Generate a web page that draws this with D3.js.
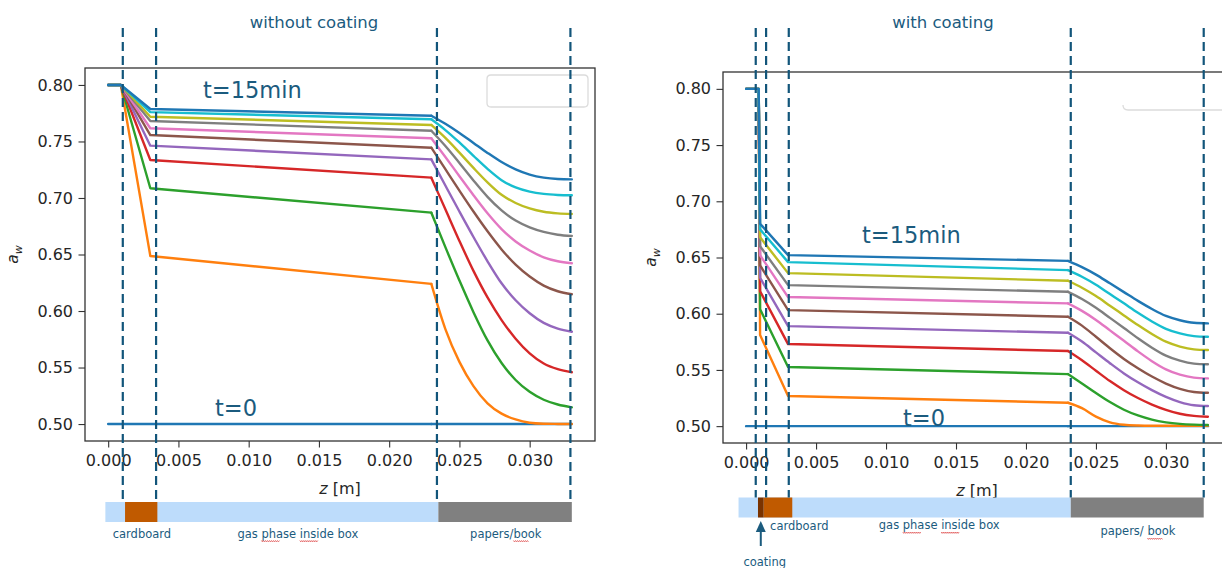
<!DOCTYPE html>
<html>
<head>
<meta charset="utf-8">
<script src="https://cdn.jsdelivr.net/npm/d3@7"></script>
<style>
  body { margin: 0; background: #fff; }
  svg text { font-family: "DejaVu Sans", sans-serif; }
</style>
</head>
<body>
<svg id="chart" width="1222" height="568"></svg>
<script>
// ---- data ----
const timesMin = [0, 1.5, 3, 4.5, 6, 7.5, 9, 10.5, 12, 13.5, 15];
const xTicks = [0, 0.005, 0.010, 0.015, 0.020, 0.025, 0.030];
const yTicks = [0.50, 0.55, 0.60, 0.65, 0.70, 0.75, 0.80];

// without coating: z [m] and a_w per time step
const leftZ = [0, 0.0009, 0.003, 0.023, 0.024, 0.025, 0.026, 0.027, 0.028, 0.029, 0.030, 0.031, 0.032, 0.033];
const leftAw = [
  [0.50, 0.50, 0.50, 0.50, 0.50, 0.50, 0.50, 0.50, 0.50, 0.50, 0.50, 0.50, 0.50, 0.50],
  [0.80, 0.80, 0.6487, 0.624, 0.584, 0.555, 0.5335, 0.5183, 0.5092, 0.5041, 0.5012, 0.5003, 0.5001, 0.5000],
  [0.80, 0.80, 0.7086, 0.687, 0.6565, 0.627, 0.599, 0.574, 0.554, 0.539, 0.5285, 0.5215, 0.5173, 0.5148],
  [0.80, 0.80, 0.7336, 0.718, 0.690, 0.662, 0.6355, 0.612, 0.592, 0.5755, 0.5625, 0.5535, 0.5485, 0.5458],
  [0.80, 0.80, 0.7463, 0.7342, 0.711, 0.688, 0.6655, 0.644, 0.6245, 0.6095, 0.598, 0.5895, 0.5845, 0.5817],
  [0.80, 0.80, 0.7557, 0.7445, 0.7255, 0.7065, 0.688, 0.6705, 0.6545, 0.641, 0.6305, 0.6225, 0.6175, 0.6148],
  [0.80, 0.80, 0.7617, 0.7528, 0.7363, 0.7193, 0.7025, 0.6865, 0.6725, 0.6615, 0.6535, 0.6475, 0.644, 0.6422],
  [0.80, 0.80, 0.7681, 0.7595, 0.746, 0.731, 0.7155, 0.701, 0.689, 0.680, 0.674, 0.670, 0.6675, 0.6664],
  [0.80, 0.80, 0.7719, 0.7646, 0.7531, 0.7401, 0.7266, 0.7138, 0.7028, 0.6956, 0.6908, 0.6878, 0.6864, 0.6858],
  [0.80, 0.80, 0.776, 0.7696, 0.7601, 0.7491, 0.7373, 0.7258, 0.7158, 0.7093, 0.7056, 0.7036, 0.7027, 0.7024],
  [0.80, 0.80, 0.7787, 0.7728, 0.7656, 0.7575, 0.7487, 0.7399, 0.7318, 0.7253, 0.7207, 0.718, 0.7168, 0.7165]
];

// with coating
const rightZ = [0, 0.0009, 0.001, 0.003, 0.023, 0.024, 0.025, 0.026, 0.027, 0.028, 0.029, 0.030, 0.031, 0.032, 0.033];
const rightAw = [
  [0.50, 0.50, 0.50, 0.50, 0.50, 0.50, 0.50, 0.50, 0.50, 0.50, 0.50, 0.50, 0.50, 0.50, 0.50],
  [0.80, 0.80, 0.581, 0.5268, 0.5208, 0.5160, 0.5085, 0.5034, 0.5012, 0.5005, 0.5003, 0.5003, 0.5003, 0.5003, 0.5003],
  [0.80, 0.80, 0.604, 0.5526, 0.5463, 0.5380, 0.5295, 0.5214, 0.5146, 0.5095, 0.5058, 0.5034, 0.5020, 0.5013, 0.501],
  [0.80, 0.80, 0.620, 0.573, 0.5668, 0.5586, 0.5493, 0.5401, 0.5320, 0.5250, 0.5192, 0.5145, 0.5110, 0.5091, 0.5084],
  [0.80, 0.80, 0.632, 0.589, 0.583, 0.5752, 0.5656, 0.5560, 0.5469, 0.5390, 0.5320, 0.5260, 0.5214, 0.5186, 0.5179],
  [0.80, 0.80, 0.643, 0.6032, 0.5973, 0.5894, 0.5795, 0.5693, 0.5598, 0.5515, 0.5441, 0.5379, 0.5332, 0.5304, 0.5297],
  [0.80, 0.80, 0.652, 0.6148, 0.6092, 0.6025, 0.5945, 0.5852, 0.5759, 0.5665, 0.5578, 0.5505, 0.5458, 0.5432, 0.5425],
  [0.80, 0.80, 0.660, 0.6254, 0.6195, 0.6131, 0.6053, 0.5963, 0.5873, 0.5782, 0.5698, 0.5627, 0.5582, 0.5556, 0.555],
  [0.80, 0.80, 0.668, 0.6361, 0.6293, 0.6231, 0.6157, 0.6071, 0.5985, 0.5899, 0.5819, 0.5751, 0.5708, 0.5683, 0.5677],
  [0.80, 0.80, 0.675, 0.6459, 0.6388, 0.6329, 0.6258, 0.6175, 0.6092, 0.6008, 0.5931, 0.5866, 0.5825, 0.5801, 0.5795],
  [0.80, 0.80, 0.680, 0.6521, 0.647, 0.6414, 0.6348, 0.627, 0.6192, 0.6114, 0.6042, 0.598, 0.5942, 0.5919, 0.5914]
];

// layer boundaries (dashed lines) and layers of the strip below, in z [m]
const leftBounds = [0.00104, 0.00341, 0.0234, 0.0329];
const rightBounds = [0.00069, 0.00143, 0.00305, 0.0232, 0.0327];
const leftLayers = [["gas", -0.0002, 0.0235], ["cardboard", 0.0012, 0.0035], ["book", 0.0235, 0.033]];
const rightLayers = [["gas", -0.00054, 0.0232], ["coating", 0.00085, 0.00126], ["cardboard", 0.00126, 0.0033], ["book", 0.0232, 0.0327]];
const leftLabels = [["cardboard", 0.0024, []], ["gas phase inside box", 0.0135, ["phase", "inside"]], ["papers/book", 0.0283, ["book"]]];
const rightLabels = [["cardboard", 0.0038, []], ["gas phase inside box", 0.0138, ["phase", "inside"]], ["papers/ book", 0.028, ["book"]]];

// ---- styles ----
const colors = ["#1f77b4", "#ff7f0e", "#2ca02c", "#d62728", "#9467bd", "#8c564b",
                "#e377c2", "#7f7f7f", "#bcbd22", "#17becf", "#1f77b4"];
const layerColor = { gas: "#bddcfb", cardboard: "#c05a00", coating: "#7a3300", book: "#808080" };
const ink = "#1b5b7e";
const dashInk = "#12557a";

const svg = d3.select("#chart");

function drawPanel(p) {
  const x = d3.scaleLinear().domain([-0.00165, 0.03465]).range([p.left, p.right]);
  const y = d3.scaleLinear().domain([0.485, 0.815]).range([p.bottom, p.top]);
  const g = svg.append("g");

  // series: straight through the layers, smooth through the book
  const kink = p.z.indexOf(0.023);
  const straight = d3.line().x(d => x(d[0])).y(d => y(d[1]));
  const smooth = d3.line().curve(d3.curveMonotoneX).x(d => x(d[0])).y(d => y(d[1]));
  p.aw.forEach((vals, i) => {
    const pts = p.z.map((z, j) => [z, vals[j]]);
    [straight(pts.slice(0, kink + 1)), smooth(pts.slice(kink))].forEach(d => {
      g.append("path").attr("d", d).attr("fill", "none")
        .attr("stroke", colors[i]).attr("stroke-width", 2.4)
        .attr("stroke-linecap", "round").attr("stroke-linejoin", "round");
    });
  });

  // axes
  const xAxis = d3.axisBottom(x).tickValues(xTicks).tickSize(6.5).tickPadding(7)
    .tickFormat(d3.format(".3f"));
  const yAxis = d3.axisLeft(y).tickValues(yTicks).tickSize(6.5).tickPadding(5.5)
    .tickFormat(d3.format(".2f"));
  [g.append("g").attr("transform", `translate(0,${p.bottom})`).call(xAxis),
   g.append("g").attr("transform", `translate(${p.left},0)`).call(yAxis)].forEach(a => {
    a.select(".domain").remove();
    a.selectAll("line").attr("stroke", "#333").attr("stroke-width", 1.1);
    a.selectAll("text").attr("fill", "#262626").style("font-size", "16px")
      .style("font-family", "DejaVu Sans, sans-serif");
  });

  g.append("rect").attr("x", p.left).attr("y", p.top)
    .attr("width", p.right - p.left).attr("height", p.bottom - p.top)
    .attr("fill", "none").attr("stroke", "#333").attr("stroke-width", 1.3);

  // axis labels
  const xl = g.append("text").attr("x", (p.left + p.right) / 2).attr("y", p.bottom + 53)
    .attr("text-anchor", "middle").attr("fill", "#262626").style("font-size", "16px");
  xl.append("tspan").attr("font-style", "italic").text("z");
  xl.append("tspan").text(" [m]");
  const yl = g.append("text").attr("text-anchor", "middle").attr("fill", "#262626")
    .attr("transform", `translate(${p.left - 67},${(p.top + p.bottom) / 2}) rotate(-90)`)
    .style("font-size", "15.5px");
  yl.append("tspan").attr("font-style", "italic").text("a");
  yl.append("tspan").attr("font-style", "italic").attr("dy", 3.5).style("font-size", "11px").text("w");

  // empty legend frame
  g.append("path").attr("d", p.legend).attr("fill", "#fff")
    .attr("stroke", "#dcdcdc").attr("stroke-width", 1.3);

  // title and time labels
  g.append("text").attr("x", p.titleX).attr("y", 28).attr("text-anchor", "middle")
    .attr("fill", ink).style("font-size", "16.5px").text(p.title);
  p.tLabels.forEach(([txt, tx, ty]) => {
    g.append("text").attr("x", tx).attr("y", ty).attr("fill", ink)
      .style("font-size", "22.5px").text(txt);
  });

  // layer strip
  p.layers.forEach(([name, z0, z1]) => {
    g.append("rect").attr("x", x(z0)).attr("y", p.barTop)
      .attr("width", x(z1) - x(z0)).attr("height", 20).attr("fill", layerColor[name]);
  });
  p.labels.forEach(([txt, zc, marked], k) => {
    const t = g.append("text").attr("x", x(zc)).attr("y", p.labelY[k])
      .attr("text-anchor", "middle").attr("fill", ink).style("font-size", "11.5px").text(txt);
    const node = t.node(), box = node.getBBox();
    marked.forEach(w => {
      const i0 = txt.indexOf(w);
      const sx = box.x + node.getSubStringLength(0, i0);
      const len = node.getSubStringLength(i0, w.length);
      let d = `M${sx},${p.labelY[k] + 3}`;
      for (let s = 0; s < len; s += 2) d += ` l1,${(s / 2) % 2 ? -1.4 : 1.4}`;
      g.append("path").attr("d", d).attr("fill", "none").attr("stroke", "#e05555").attr("stroke-width", 0.8);
    });
  });

  // dashed boundaries, on top of everything
  p.bounds.forEach(b => {
    g.append("line").attr("x1", x(b)).attr("x2", x(b)).attr("y1", p.dashTop).attr("y2", p.barTop)
      .attr("stroke", dashInk).attr("stroke-width", 2.2).attr("stroke-dasharray", "9,5");
  });
  return { x, y, g };
}

drawPanel({
  left: 85, right: 595, top: 68, bottom: 441,
  z: leftZ, aw: leftAw, bounds: leftBounds, layers: leftLayers, labels: leftLabels,
  labelY: [537.5, 537.5, 537.5], barTop: 502, dashTop: 28,
  title: "without coating", titleX: 314,
  tLabels: [["t=15min", 203, 98], ["t=0", 215, 416]],
  legend: "M491,75 H584 Q588,75 588,79 V103 Q588,107 584,107 H491 Q487,107 487,103 V79 Q487,75 491,75 Z"
});

const right = drawPanel({
  left: 723, right: 1231, top: 72, bottom: 443,
  z: rightZ, aw: rightAw, bounds: rightBounds, layers: rightLayers, labels: rightLabels,
  labelY: [530, 529, 535], barTop: 497.5, dashTop: 28,
  title: "with coating", titleX: 943,
  tLabels: [["t=15min", 862, 243], ["t=0", 903, 426]],
  legend: "M1123,105 Q1123,110 1128,110 H1222"
});

// coating arrow
const ax = right.x(0.00105);
right.g.append("line").attr("x1", ax).attr("x2", ax).attr("y1", 546).attr("y2", 530)
  .attr("stroke", ink).attr("stroke-width", 2);
right.g.append("path").attr("d", `M${ax},521 L${ax - 5},532 L${ax + 5},532 Z`).attr("fill", ink);
right.g.append("text").attr("x", ax + 4).attr("y", 566).attr("text-anchor", "middle")
  .attr("fill", ink).style("font-size", "11.5px").text("coating");
</script>
</body>
</html>
